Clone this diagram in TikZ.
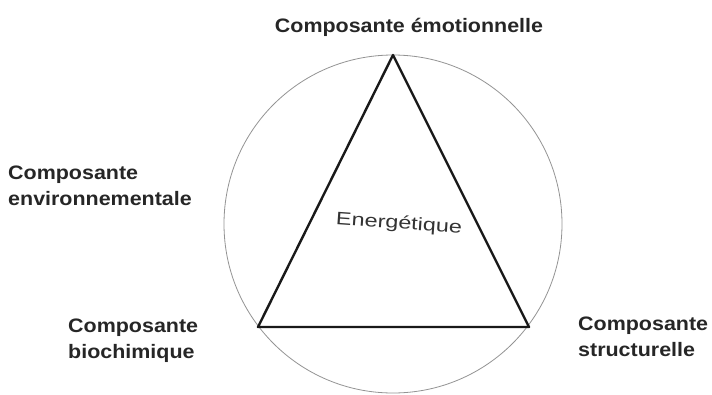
\documentclass[tikz,border=0pt]{standalone}
\usepackage{fontspec}
\setmainfont{Liberation Sans}
\begin{document}
\begin{tikzpicture}[x=1pt,y=-1pt,
  lab/.style={font=\bfseries\fontsize{19.5}{26}\selectfont, text=black!85, inner sep=0pt, align=left, xscale=1.1},
  side/.style={line width=2.4pt, black!90, line join=round}]
\useasboundingbox (0,0) rectangle (712,394);
\coordinate (O) at (393,224);
\draw[gray!85, line width=0.8pt] (O) circle[radius=169];
\coordinate (A) at (393,55);
\coordinate (B) at (258,327);
\coordinate (C) at (529,327);
\draw[side] (A) -- (B) -- (C) -- cycle;
\node[lab, anchor=center] (em) at (409,27) {Composante émotionnelle};
\node[lab, anchor=west] (env) at (8,185.5) {Composante\\environnementale};
\node[lab, anchor=west] (bio) at (68,341) {Composante\\biochimique};
\node[lab, anchor=west] (str) at (578,337) {Composante\\structurelle};
\node[font=\fontsize{18}{20}\selectfont, text=black!80, rotate=-4, xscale=1.3] (en) at (399,224) {Energétique};
\end{tikzpicture}
\end{document}
